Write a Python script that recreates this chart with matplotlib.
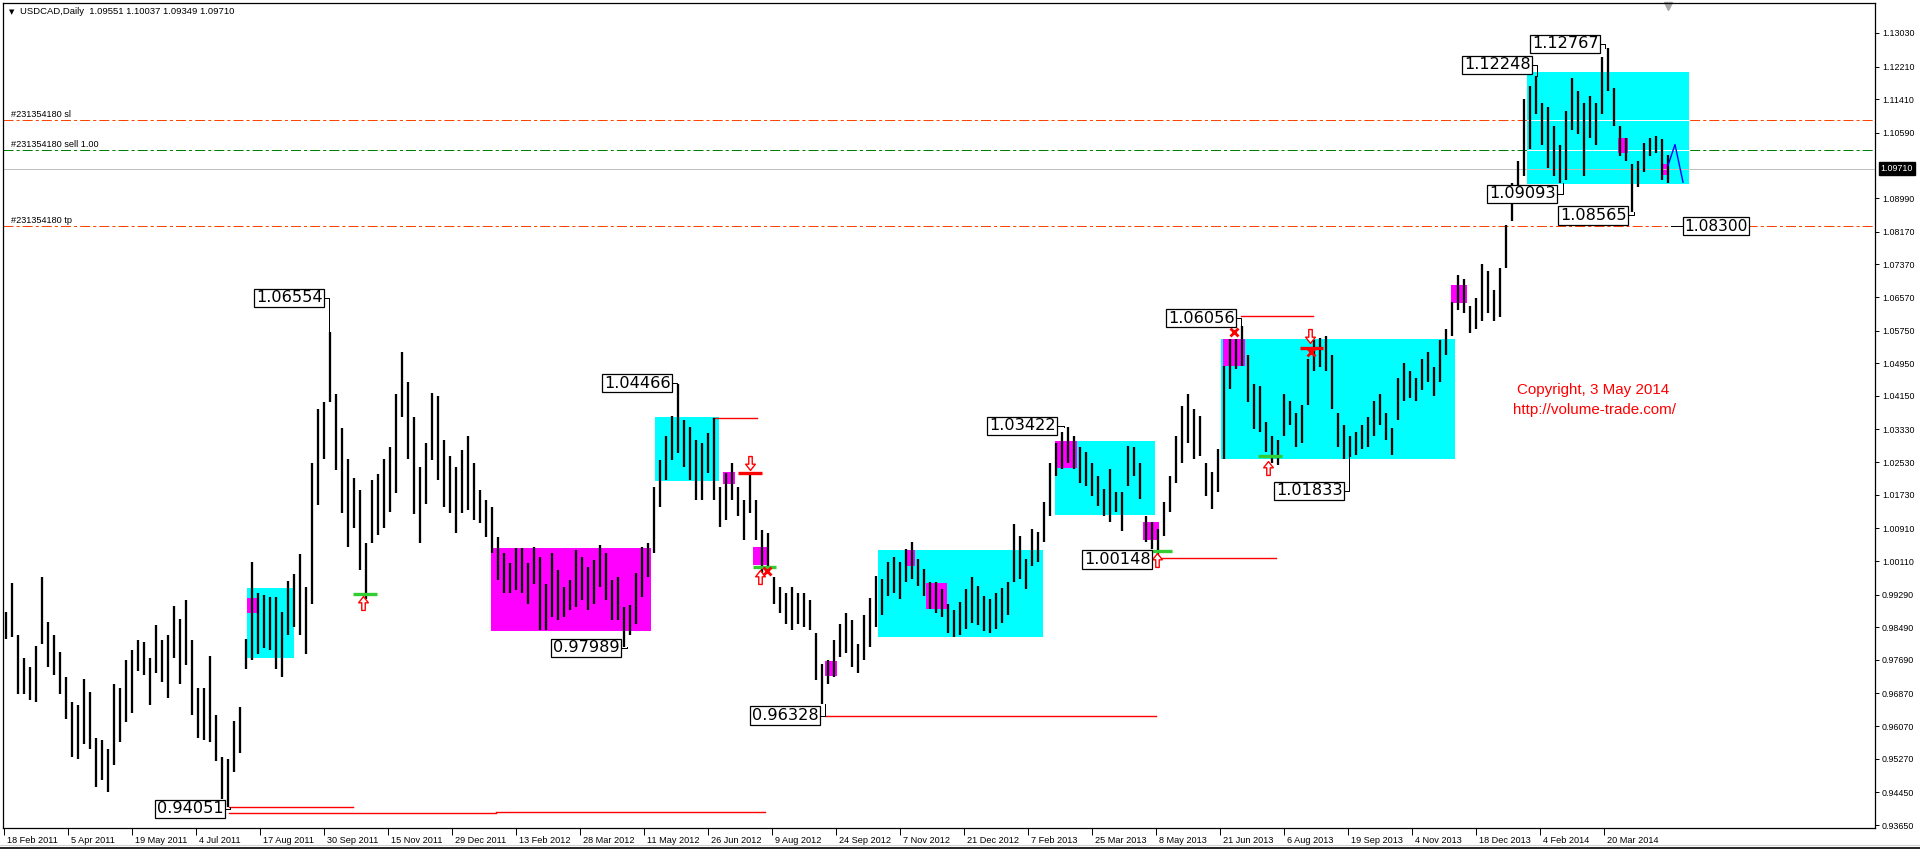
import numpy as np
import matplotlib
matplotlib.use('Agg')
import matplotlib.pyplot as plt
import matplotlib.transforms as mtransforms
from matplotlib.patches import Rectangle
from matplotlib.path import Path

plt.rcParams['font.family'] = ['Liberation Sans', 'DejaVu Sans']
plt.rcParams['lines.scale_dashes'] = False

# USDCAD daily in 3-day steps (high / low)
highs = [
    0.9887, 0.9957, 0.9831, 0.9774, 0.9751, 0.9803, 0.9971, 0.9863, 0.9831, 0.9789,
    0.9728, 0.9667, 0.9658, 0.9723, 0.9690, 0.9578, 0.9573, 0.9550, 0.9709, 0.9700,
    0.9770, 0.9793, 0.9817, 0.9812, 0.9774, 0.9854, 0.9817, 0.9831, 0.9901, 0.9868,
    0.9915, 0.9817, 0.9700, 0.9700, 0.9779, 0.9634, 0.9531, 0.9527, 0.9620, 0.9653,
    0.9821, 1.0008, 0.9934, 0.9929, 0.9924, 0.9924, 0.9887, 0.9962, 0.9980, 1.0027,
    0.9948, 1.0250, 1.0382, 1.0401, 1.0571, 1.0420, 1.0336, 1.0261, 1.0214, 1.0186,
    1.0055, 1.0209, 1.0223, 1.0261, 1.0289, 1.0420, 1.0523, 1.0448, 1.0364, 1.0242,
    1.0300, 1.0422, 1.0414, 1.0308, 1.0267, 1.0242, 1.0283, 1.0316, 1.0251, 1.0185,
    1.0161, 1.0144, 1.0071, 1.0030, 1.0006, 1.0042, 1.0042, 1.0006, 1.0046, 1.0022,
    0.9956, 1.0030, 0.9989, 0.9948, 0.9965, 1.0038, 1.0022, 0.9997, 1.0014, 1.0050,
    1.0030, 0.9965, 0.9973, 0.9899, 0.9903, 0.9981, 1.0046, 1.0055, 1.0193, 1.0259,
    1.0316, 1.0365, 1.0443, 1.0357, 1.0340, 1.0308, 1.0300, 1.0324, 1.0361, 1.0193,
    1.0226, 1.0251, 1.0193, 1.0161, 1.0226, 1.0161, 1.0087, 1.0079, 0.9973, 0.9948,
    0.9932, 0.9948, 0.9932, 0.9932, 0.9916, 0.9834, 0.9760, 0.9769, 0.9818, 0.9858,
    0.9883, 0.9867, 0.9809, 0.9880, 0.9920, 0.9975, 0.9967, 1.0008, 1.0020, 1.0008,
    1.0040, 1.0057, 1.0016, 0.9991, 0.9959, 0.9959, 0.9942, 0.9905, 0.9890, 0.9910,
    0.9942, 0.9971, 0.9951, 0.9926, 0.9918, 0.9934, 0.9946, 0.9959, 1.0101, 1.0073,
    1.0016, 1.0089, 1.0081, 1.0155, 1.0252, 1.0301, 1.0326, 1.0338, 1.0318, 1.0289,
    1.0277, 1.0252, 1.0220, 1.0187, 1.0236, 1.0179, 1.0179, 1.0293, 1.0289, 1.0252,
    1.0122, 1.0106, 1.0089, 1.0155, 1.0220, 1.0318, 1.0391, 1.0420, 1.0383, 1.0367,
    1.0252, 1.0228, 1.0285, 1.0489, 1.0554, 1.0554, 1.0587, 1.0514, 1.0444, 1.0440,
    1.0350, 1.0318, 1.0308, 1.0420, 1.0402, 1.0373, 1.0392, 1.0505, 1.0551, 1.0556,
    1.0561, 1.0514, 1.0373, 1.0345, 1.0317, 1.0327, 1.0345, 1.0364, 1.0402, 1.0420,
    1.0373, 1.0336, 1.0458, 1.0495, 1.0476, 1.0458, 1.0505, 1.0523, 1.0486, 1.0551,
    1.0579, 1.0645, 1.0710, 1.0701, 1.0636, 1.0654, 1.0739, 1.0720, 1.0673, 1.0729,
    1.0832, 1.0935, 1.0991, 1.1141, 1.1174, 1.1197, 1.1132, 1.1122, 1.1076, 1.1029,
    1.1113, 1.1193, 1.1160, 1.1132, 1.1150, 1.1132, 1.1244, 1.1267, 1.1169, 1.1076,
    1.1047, 1.0982, 1.0991, 1.1033, 1.1047, 1.1052, 1.1043, 1.1005,
]
lows = [
    0.9821, 0.9826, 0.9686, 0.9686, 0.9672, 0.9667, 0.9807, 0.9751, 0.9732, 0.9686,
    0.9625, 0.9531, 0.9527, 0.9564, 0.9550, 0.9457, 0.9475, 0.9447, 0.9513, 0.9569,
    0.9616, 0.9639, 0.9742, 0.9732, 0.9658, 0.9737, 0.9714, 0.9676, 0.9774, 0.9709,
    0.9756, 0.9634, 0.9578, 0.9573, 0.9569, 0.9522, 0.9429, 0.9410, 0.9494, 0.9541,
    0.9746, 0.9770, 0.9784, 0.9798, 0.9793, 0.9746, 0.9728, 0.9831, 0.9849, 0.9831,
    0.9784, 0.9905, 1.0149, 1.0261, 1.0401, 1.0233, 1.0129, 1.0046, 1.0092, 0.9990,
    0.9919, 1.0055, 1.0074, 1.0092, 1.0130, 1.0177, 1.0364, 1.0261, 1.0125, 1.0055,
    1.0150, 1.0259, 1.0210, 1.0144, 1.0128, 1.0079, 1.0128, 1.0136, 1.0112, 1.0104,
    1.0071, 1.0030, 0.9965, 0.9932, 0.9932, 0.9940, 0.9932, 0.9907, 0.9956, 0.9842,
    0.9842, 0.9875, 0.9867, 0.9875, 0.9891, 0.9899, 0.9916, 0.9891, 0.9907, 0.9948,
    0.9916, 0.9867, 0.9867, 0.9801, 0.9830, 0.9858, 0.9924, 0.9973, 1.0030, 1.0144,
    1.0210, 1.0259, 1.0275, 1.0242, 1.0210, 1.0161, 1.0161, 1.0226, 1.0161, 1.0095,
    1.0112, 1.0161, 1.0120, 1.0063, 1.0128, 1.0063, 0.9981, 0.9981, 0.9907, 0.9883,
    0.9858, 0.9842, 0.9858, 0.9850, 0.9842, 0.9720, 0.9662, 0.9711, 0.9728, 0.9777,
    0.9785, 0.9752, 0.9736, 0.9770, 0.9800, 0.9850, 0.9880, 0.9926, 0.9934, 0.9918,
    0.9959, 0.9967, 0.9950, 0.9926, 0.9893, 0.9885, 0.9875, 0.9835, 0.9826, 0.9830,
    0.9845, 0.9860, 0.9855, 0.9840, 0.9835, 0.9845, 0.9860, 0.9880, 0.9959, 0.9967,
    0.9942, 0.9999, 1.0008, 1.0057, 1.0122, 1.0220, 1.0236, 1.0252, 1.0236, 1.0203,
    1.0195, 1.0171, 1.0146, 1.0122, 1.0106, 1.0130, 1.0085, 1.0195, 1.0220, 1.0163,
    1.0057, 1.0040, 1.0020, 1.0073, 1.0130, 1.0203, 1.0252, 1.0301, 1.0261, 1.0269,
    1.0171, 1.0138, 1.0179, 1.0261, 1.0432, 1.0481, 1.0489, 1.0399, 1.0334, 1.0326,
    1.0277, 1.0252, 1.0247, 1.0317, 1.0345, 1.0289, 1.0299, 1.0392, 1.0476, 1.0486,
    1.0476, 1.0383, 1.0289, 1.0261, 1.0266, 1.0271, 1.0285, 1.0289, 1.0317, 1.0345,
    1.0308, 1.0271, 1.0355, 1.0402, 1.0411, 1.0402, 1.0430, 1.0448, 1.0416, 1.0448,
    1.0514, 1.0561, 1.0626, 1.0617, 1.0570, 1.0579, 1.0598, 1.0617, 1.0598, 1.0607,
    1.0729, 1.0842, 1.0898, 1.0954, 1.1019, 1.1104, 1.1029, 1.0973, 1.0954, 1.0935,
    1.0944, 1.1066, 1.1057, 1.0954, 1.1047, 1.1029, 1.1104, 1.1160, 1.1076, 1.1001,
    1.0991, 1.0865, 1.0926, 1.0963, 1.1001, 1.1010, 1.0944, 1.0935,
]
days = np.arange(len(highs)) * 3 + 1   # bar index (trading days from 18 Feb 2011)

date_labels = ['18 Feb 2011', '5 Apr 2011', '19 May 2011', '4 Jul 2011', '17 Aug 2011',
               '30 Sep 2011', '15 Nov 2011', '29 Dec 2011', '13 Feb 2012', '28 Mar 2012',
               '11 May 2012', '26 Jun 2012', '9 Aug 2012', '24 Sep 2012', '7 Nov 2012',
               '21 Dec 2012', '7 Feb 2013', '25 Mar 2013', '8 May 2013', '21 Jun 2013',
               '6 Aug 2013', '19 Sep 2013', '4 Nov 2013', '18 Dec 2013', '4 Feb 2014',
               '20 Mar 2014']
date_days = [32 * k for k in range(len(date_labels))]

price_ticks = [1.13030, 1.12210, 1.11410, 1.10590, 1.08990, 1.08170, 1.07370, 1.06570,
               1.05750, 1.04950, 1.04150, 1.03330, 1.02530, 1.01730, 1.00910, 1.00110,
               0.99290, 0.98490, 0.97690, 0.96870, 0.96070, 0.95270, 0.94450, 0.93650]

bid = 1.09710
order_lines = [('#231354180 sl', 1.10901, '#FF4500'),
               ('#231354180 sell 1.00', 1.10167, '#008000'),
               ('#231354180 tp', 1.08308, '#FF4500')]

# zones: (day start, day end, price low, price high)
cyan_zones = [(121.5, 145, 0.97741, 0.99449), (325.5, 357.5, 1.02072, 1.03624),
              (437, 519.5, 0.98250, 1.00390), (525.5, 575.5, 1.01243, 1.03047),
              (608.5, 725.5, 1.02600, 1.05540), (761.5, 842.5, 1.09331, 1.12065)]
magenta_zones = [(121.5, 126.5, 0.98839, 0.99213), (243.5, 323.5, 0.98404, 1.00438),
                 (359.5, 365.5, 1.02007, 1.02293), (374.5, 382.5, 1.00013, 1.00463),
                 (410.5, 416.5, 0.97293, 0.97660), (450.5, 455.5, 0.99995, 1.00386),
                 (461, 471.5, 0.98934, 0.99571), (525.5, 536.5, 1.02394, 1.03047),
                 (569.5, 577.5, 1.00631, 1.01056), (609.5, 620.5, 1.04874, 1.05544),
                 (723.5, 731.5, 1.06420, 1.06870), (807, 812, 1.10099, 1.10455),
                 (829, 832.5, 1.09556, 1.09818)]

# level lines: (day start, day end, price)
red_levels = [(112.5, 174.5, 0.94085), (112.5, 246, 0.93940), (246, 380.5, 0.93970),
              (354.5, 376.5, 1.03608), (410.5, 576, 0.96325), (573, 636, 1.00195),
              (618.5, 654.5, 1.06095)]
red_marks = [(367, 379, 1.02260), (648, 659.5, 1.05325)]
green_marks = [(174.5, 186.5, 0.99315), (374.5, 386, 0.99956),
               (572.5, 584, 1.00362), (627, 639, 1.02690)]

up_arrow_days = [179.5, 378, 576.5, 632]
up_arrow_prices = [0.99080, 0.99730, 1.00130, 1.02390]
down_arrow_days = [373, 653]
down_arrow_prices = [1.02505, 1.05610]
cross_days = [381.5, 615, 653.5]
cross_prices = [0.99875, 1.05707, 1.05231]

# swing labels: text, label price, box right edge (day), bar day, bar extreme price
swing_labels = [('1.06554', 1.06554, 160.5, 162.5, 1.05712),
                ('0.94051', 0.94051, 111, 113, 0.94098),
                ('1.04466', 1.04466, 334.5, 336.5, 1.04426),
                ('0.97989', 0.97989, 309, 311.5, 0.98012),
                ('0.96328', 0.96328, 408.5, 410.5, 0.96623),
                ('1.03422', 1.03422, 527, 530, 1.03380),
                ('1.00148', 1.00148, 574.5, 577, 1.00198),
                ('1.06056', 1.06056, 616.5, 618.5, 1.05870),
                ('1.01833', 1.01833, 670.5, 672.5, 1.02658),
                ('1.12248', 1.12248, 764.5, 766.5, 1.11972),
                ('1.12767', 1.12767, 798.5, 800.5, 1.12674),
                ('1.09093', 1.09093, 777, 779.5, 1.09351),
                ('1.08565', 1.08565, 812.5, 815, 1.08649)]
tp_label = ('1.08300', 1.08300, 833.5, 839)

proj_days = [832, 835.5, 839.5]
proj_prices = [1.0979, 1.1030, 1.0938]

W, H = 1920, 849
fig = plt.figure(figsize=(W / 100, H / 100), dpi=100)
ax = fig.add_axes([3 / W, 21 / H, 1872 / W, 825 / H])
ax.set_xlim(-0.5, 935.5)
ax.set_ylim(0.93578, 1.13764)
px = 0.72  # one pixel in points

# zones
for x0, x1, p0, p1 in cyan_zones:
    ax.add_patch(Rectangle((x0, p0), x1 - x0, p1 - p0, fc='#00FFFF', ec='none', zorder=1))
for x0, x1, p0, p1 in magenta_zones:
    ax.add_patch(Rectangle((x0, p0), x1 - x0, p1 - p0, fc='#FF00FF', ec='none', zorder=1.2))

# order lines (white where they cross a cyan zone, as in the terminal)
for txt, p, c in order_lines:
    ax.axhline(p, color=c, lw=px, dashes=[7.2, 2.2, 2.2, 2.2], zorder=0.8)
    ax.text(3.5, p, txt, fontsize=6.6, va='bottom', ha='left', color='black',
            transform=mtransforms.offset_copy(ax.transData, fig=fig, y=1.0, units='points'))
    for x0, x1, p0, p1 in cyan_zones:
        if p0 < p < p1:
            ax.plot([x0, x1], [p, p], color='white', lw=px, zorder=1.1)
ax.axhline(bid, color='#C0C0C0', lw=px, zorder=1.5)

# bars
ax.vlines(days, lows, highs, colors='black', lw=1.65, zorder=3)

# red / green levels
for x0, x1, p in red_levels:
    ax.plot([x0, x1], [p, p], color='#FF0000', lw=1.0, zorder=2)
for x0, x1, p in red_marks:
    ax.plot([x0, x1], [p, p], color='#FF0000', lw=2.4, zorder=4, solid_capstyle='butt')
for x0, x1, p in green_marks:
    ax.plot([x0, x1], [p, p], color='#32CD32', lw=2.4, zorder=4, solid_capstyle='butt')

# hollow arrows
up_verts = [(-0.25, -1), (0.25, -1), (0.25, 0.1), (0.7, 0.1), (0, 1), (-0.7, 0.1),
            (-0.25, 0.1), (-0.25, -1)]
codes = [Path.MOVETO] + [Path.LINETO] * 6 + [Path.CLOSEPOLY]
up_path = Path(up_verts, codes)
down_path = Path([(x, -y) for x, y in up_verts], codes)
ax.plot(up_arrow_days, up_arrow_prices, ls='none', marker=up_path, ms=10,
        mfc='white', mec='#FF0000', mew=1.0, zorder=5)
ax.plot(down_arrow_days, down_arrow_prices, ls='none', marker=down_path, ms=10,
        mfc='white', mec='#FF0000', mew=1.0, zorder=5)
ax.plot(cross_days, cross_prices, ls='none', marker='x', ms=6, mew=2,
        color='#FF0000', zorder=5)

# swing labels
for txt, lp, xr, bx, bp in swing_labels:
    ax.plot([xr, bx, bx], [lp, lp, bp], color='black', lw=px, zorder=4)
    ax.text(xr - 1.2, lp, txt, ha='right', va='center', fontsize=11.6,
            family='DejaVu Sans', zorder=6,
            bbox=dict(boxstyle='square,pad=0.1', fc='white', ec='black', lw=0.9))
txt, lp, x0, xl = tp_label
ax.plot([x0, xl], [lp, lp], color='black', lw=px, zorder=4)
ax.text(xl + 1.2, lp, txt, ha='left', va='center', fontsize=11.2,
        family='DejaVu Sans', zorder=6,
        bbox=dict(boxstyle='square,pad=0.1', fc='white', ec='black', lw=0.9))

# projection
ax.plot(proj_days, proj_prices, color='#0000FF', lw=1.0, zorder=4)

# axes look
for s in ax.spines.values():
    s.set_linewidth(0.9)
    s.set_color('black')
ax.yaxis.tick_right()
ax.set_yticks(price_ticks)
ax.set_yticklabels(['%.5f' % v for v in price_ticks])
ax.tick_params(axis='y', length=3, width=0.7, pad=2, labelsize=6.4, direction='out')
ax.set_xticks(date_days)
ax.set_xticklabels(date_labels)
ax.tick_params(axis='x', length=5, width=0.7, pad=1, labelsize=6.6, direction='out')
shift = mtransforms.ScaledTranslation(0.03, 0, fig.dpi_scale_trans)
for lab in ax.get_xticklabels():
    lab.set_horizontalalignment('left')
    lab.set_transform(lab.get_transform() + shift)

# bid box on the price scale
ax.text(1.0, bid, '1.09710', color='white', fontsize=6.4, va='center', ha='left',
        transform=mtransforms.offset_copy(
            mtransforms.blended_transform_factory(ax.transAxes, ax.transData),
            fig=fig, x=4, units='points'),
        bbox=dict(boxstyle='square,pad=0.2', fc='black', ec='black'), clip_on=False)

# header and other texts
fig.text(12 / W, 1 - 12 / H, '▼', fontsize=5, family='DejaVu Sans', ha='center', va='center')
fig.text(20 / W, 1 - 12 / H, 'USDCAD,Daily  1.09551 1.10037 1.09349 1.09710',
         fontsize=6.8, ha='left', va='center')
ax.plot([832], [0.996], marker='v', ms=6, color='#A8A8A8', ls='none',
        transform=mtransforms.blended_transform_factory(ax.transData, ax.transAxes),
        clip_on=False)
fig.text(1593 / W, 1 - 390 / H, 'Copyright, 3 May 2014', color='#FF0000',
         fontsize=10.9, ha='center', va='center')
fig.text(1595 / W, 1 - 410 / H, 'http://volume-trade.com/', color='#FF0000',
         fontsize=10.9, ha='center', va='center')
fig.add_artist(plt.Line2D([0, 1], [1.5 / H, 1.5 / H], color='black', lw=1.2))
fig.add_artist(plt.Line2D([0, 1], [4 / H, 4 / H], color='#D0D0D0', lw=0.8))

fig.savefig('out.png', dpi=100, facecolor='white')
